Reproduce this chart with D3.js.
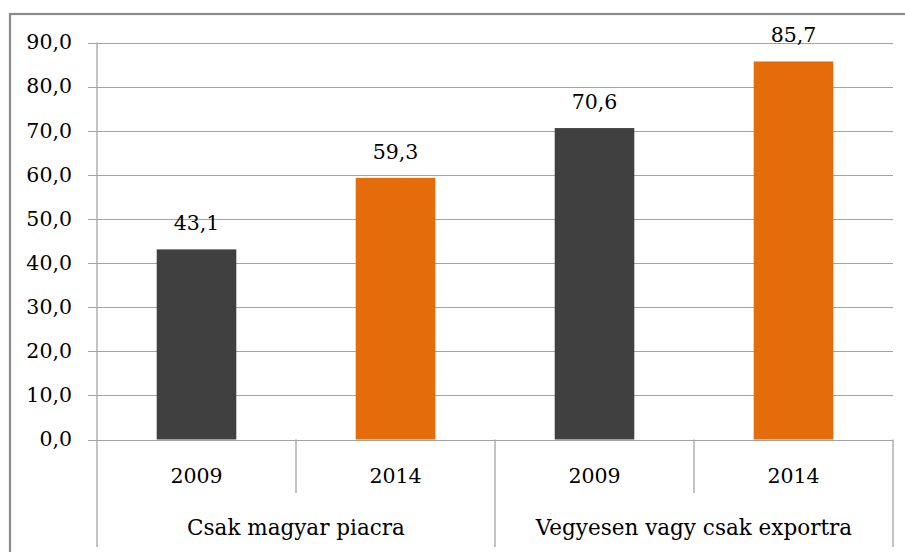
<!DOCTYPE html>
<html><head><meta charset="utf-8">
<script src="https://cdn.jsdelivr.net/npm/d3@7"></script>
<style>body{margin:0;background:#fff}svg{display:block}text{font-family:"DejaVu Serif",serif;fill:#000}</style>
</head><body>
<svg id="c" width="905" height="552"></svg>
<script>
const groups = ["Csak magyar piacra", "Vegyesen vagy csak exportra"];
const years = ["2009", "2014", "2009", "2014"];
const values = [43.1, 59.3, 70.6, 85.7];
const yTicks = [0, 10, 20, 30, 40, 50, 60, 70, 80, 90];
const colors = ["#404040", "#E46C0A", "#404040", "#E46C0A"];

(function () {
const svg = d3.select("#c");
const pLeft = 97, pRight = 893, pTop = 42.5, pBase = 439.5;
const fs = 20.5, fsG = 21.5;
const fmt = v => d3.format(".1f")(v).replace(".", ",");

svg.append("rect").attr("x", 10).attr("y", 14).attr("width", 1000).attr("height", 1000)
  .attr("fill", "none").attr("stroke", "#8a8a8a").attr("stroke-width", 2.2);

const y = d3.scaleLinear().domain([0, 90]).range([pBase, pTop]);
const x = d3.scaleBand().domain(d3.range(values.length)).range([pLeft, pRight]).padding(0);
const xg = d3.scaleBand().domain(d3.range(groups.length)).range([pLeft, pRight]).padding(0);
const bw = x.bandwidth() * 0.4;

// gridlines
svg.append("g").selectAll("line").data(yTicks).join("line")
  .attr("x1", 88).attr("x2", pRight)
  .attr("y1", d => Math.round(y(d)) + 0.5).attr("y2", d => Math.round(y(d)) + 0.5)
  .attr("stroke", "#a3a3a3").attr("stroke-width", 1.2);

// y axis line
svg.append("line").attr("x1", pLeft).attr("x2", pLeft).attr("y1", pTop).attr("y2", 547)
  .attr("stroke", "#a3a3a3").attr("stroke-width", 1.3);

// y labels
svg.append("g").selectAll("text").data(yTicks).join("text")
  .attr("x", 72).attr("y", d => y(d) + 6.8).attr("text-anchor", "end")
  .attr("font-size", fs).text(d => fmt(d));

// bars
svg.append("g").selectAll("rect").data(values).join("rect")
  .attr("x", (d, i) => x(i) + x.bandwidth() / 2 - bw / 2).attr("width", bw)
  .attr("y", d => y(d)).attr("height", d => pBase - y(d))
  .attr("fill", (d, i) => colors[i]);

// data labels
svg.append("g").selectAll("text").data(values).join("text")
  .attr("x", (d, i) => x(i) + x.bandwidth() / 2).attr("y", d => y(d) - 19)
  .attr("text-anchor", "middle").attr("font-size", fs).text(d => fmt(d));

// category dividers
const divs = d3.range(values.length + 1);
svg.append("g").selectAll("line").data(divs.slice(1)).join("line")
  .attr("x1", i => (i < values.length ? x(i) : pRight))
  .attr("x2", i => (i < values.length ? x(i) : pRight))
  .attr("y1", pBase).attr("y2", i => (i % 2 === 0 ? 547 : 493))
  .attr("stroke", "#a3a3a3").attr("stroke-width", 1.3);

// year labels
svg.append("g").selectAll("text").data(years).join("text")
  .attr("x", (d, i) => x(i) + x.bandwidth() / 2).attr("y", 483)
  .attr("text-anchor", "middle").attr("font-size", fs).text(d => d);

// group labels
svg.append("g").selectAll("text").data(groups).join("text")
  .attr("x", (d, i) => xg(i) + xg.bandwidth() / 2).attr("y", 535)
  .attr("text-anchor", "middle").attr("font-size", fsG).text(d => d);
})();
</script>
</body></html>
